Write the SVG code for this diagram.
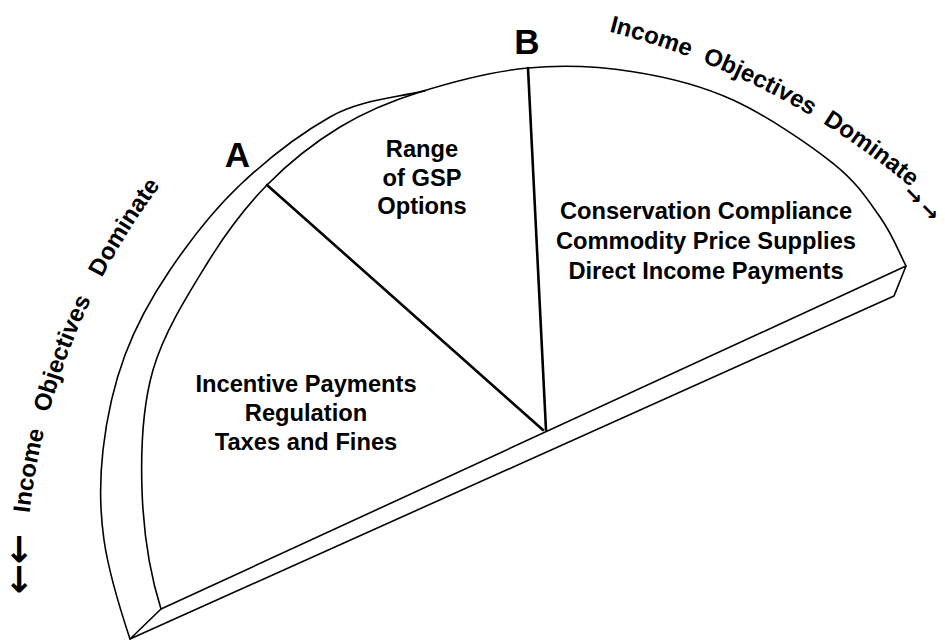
<svg xmlns="http://www.w3.org/2000/svg" xmlns:xlink="http://www.w3.org/1999/xlink" width="945" height="641" viewBox="0 0 945 641">
<style>
.l{fill:none;stroke:#000;stroke-width:1.6;stroke-linejoin:round;stroke-linecap:round}
.d{fill:none;stroke:#000;stroke-width:2.6;stroke-linecap:round}
.t{font-family:"Liberation Sans",Arial,Helvetica,sans-serif;font-weight:bold;font-size:23.7px;fill:#000;text-anchor:middle}
.c{font-family:"Liberation Sans",Arial,Helvetica,sans-serif;font-weight:bold;font-size:24px;fill:#000}
.big{font-size:35px}
.ar{font-family:"DejaVu Sans",sans-serif;font-weight:bold;fill:#000;text-anchor:middle}
</style>
<defs>
<path id="pl" d="M25.1,600 A673,673 0 0 1 160,186"/>
<path id="pr" d="M601.2,29.7 A758,758 0 0 1 964.8,237.9"/>
</defs>
<rect width="945" height="641" fill="#fff"/>
<g id="disc">
<path class="l" d="M161,609 C149,571 143.3,529.8 142,490 C140.7,450.2 142,408 153,370 C164,332 189,292.8 208,262 C227,231.2 245,207.5 267,185 C289,162.5 314.5,142.5 340,127 C365.5,111.5 388.7,101.8 420,92 C451.3,82.2 492.5,71.4 528,68 C563.5,64.6 598.8,66.4 633,71.7 C667.2,77 699.7,84.7 733,100 C766.3,115.3 808.5,143.8 833,163.3 C857.5,182.8 867.8,199.9 880,217 C892.2,234.1 898.3,250.8 906,266"/>
<path class="l" d="M130,639 C119.6,607.7 108.5,571.5 104,540 C99.5,508.5 99.5,480.8 103,450 C106.5,419.2 113.8,385 125,355 C136.2,325 150.8,298.3 170,270 C189.2,241.7 213.3,210.2 240,185 C266.7,159.8 300,134 330,117 C360,100 395,98 425,90.6"/>
<path class="l" d="M161,609 L906,266 M161,609 L130,639 L894,296 L906,266"/>
</g>
<g id="connectors">
<line class="d" x1="267" y1="185" x2="543" y2="430"/>
<line class="d" x1="528" y1="68" x2="546" y2="430"/>
</g>
<g id="label-A"><text class="t big" x="237.5" y="167">A</text></g>
<g id="label-B"><text class="t big" x="527" y="54">B</text></g>
<g id="sector-mid">
<text class="t" x="422" y="157">Range</text>
<text class="t" x="422" y="185.5">of GSP</text>
<text class="t" x="422" y="214">Options</text>
</g>
<g id="sector-left">
<text class="t" x="306" y="392">Incentive Payments</text>
<text class="t" x="306" y="421">Regulation</text>
<text class="t" x="306" y="450">Taxes and Fines</text>
</g>
<g id="sector-right">
<text class="t" x="706" y="218.5">Conservation Compliance</text>
<text class="t" x="706" y="248.5">Commodity Price Supplies</text>
<text class="t" x="706" y="278.5">Direct Income Payments</text>
</g>
<g id="arc-left-text">
<text class="c"><textPath xlink:href="#pl" href="#pl" startOffset="87">Income</textPath></text>
<text class="c"><textPath xlink:href="#pl" href="#pl" startOffset="189">Objectives</textPath></text>
<text class="c"><textPath xlink:href="#pl" href="#pl" startOffset="334.5">Dominate</textPath></text>
<text class="ar" font-size="36" transform="translate(18.3,549) rotate(90)" y="10.5">→</text>
<text class="ar" font-size="36" transform="translate(18.3,579) rotate(90)" y="10.5">→</text>
</g>
<g id="arc-right-text">
<text class="c"><textPath xlink:href="#pr" href="#pr" startOffset="8">Income</textPath></text>
<text class="c"><textPath xlink:href="#pr" href="#pr" startOffset="106">Objectives</textPath></text>
<text class="c"><textPath xlink:href="#pr" href="#pr" startOffset="241">Dominate</textPath></text>
<text class="ar" font-size="22" transform="translate(913,196) rotate(45)" y="6.5">→</text>
<text class="ar" font-size="22" transform="translate(929,212) rotate(45)" y="6.5">→</text>
</g>
</svg>
